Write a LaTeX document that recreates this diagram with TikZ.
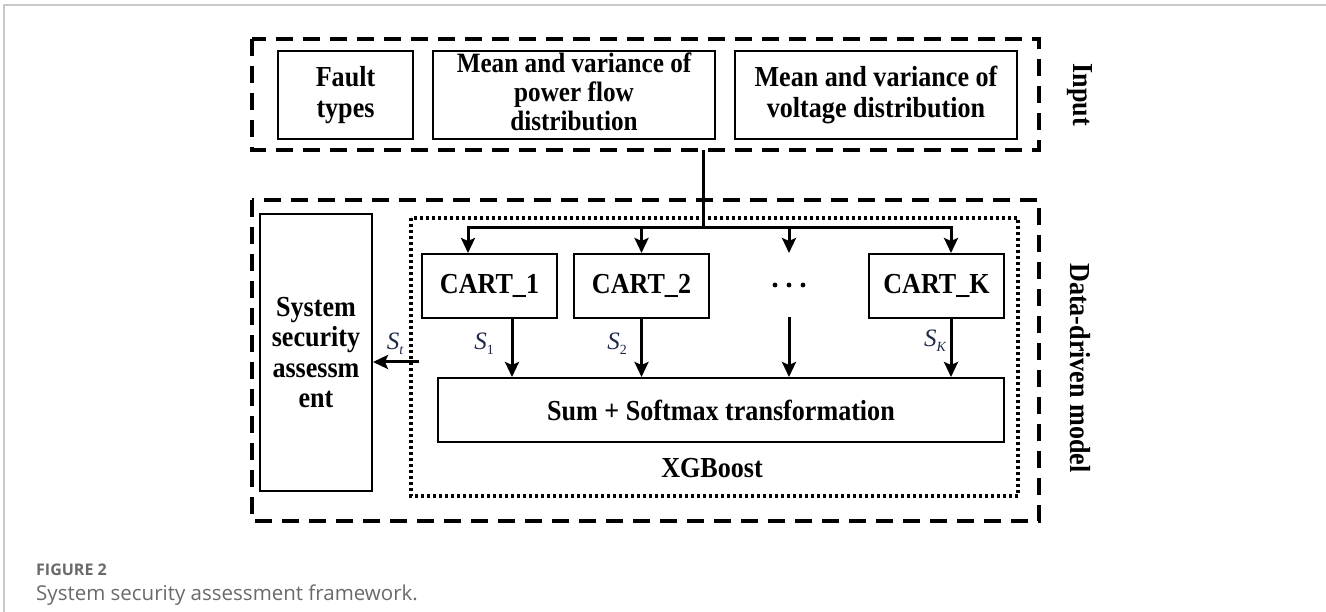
\documentclass[tikz,border=0pt]{standalone}
\usepackage{fontspec}
\setmainfont{Liberation Serif}
\newfontfamily\boxfont[FakeStretch=0.9]{Liberation Serif}
\newfontfamily\capfont{Open Sans}
\usetikzlibrary{arrows.meta}
\definecolor{frameg}{HTML}{C8C8C8}
\definecolor{capg}{HTML}{6A6A6A}
\definecolor{labc}{HTML}{1E2A48}
\tikzset{
  box/.style={draw, line width=2pt, align=center, inner sep=0pt,
    font=\boxfont\fontsize{29}{30.5}\selectfont\bfseries},
  outerbox/.style={draw, line width=3.2pt, dash pattern=on 17pt off 10pt},
  dotbox/.style={draw, line width=3.2pt, dash pattern=on 3pt off 3pt},
  conn/.style={line width=3pt},
  arr/.style={line width=3pt, -{Stealth[length=15pt,width=14pt,inset=3pt]}},
  slab/.style={font=\fontsize{25}{25}\selectfont, text=labc, inner sep=0pt},
  sidelab/.style={font=\boxfont\fontsize{29}{29}\selectfont\bfseries, rotate=-90, inner sep=0pt}
}
\begin{document}
\begin{tikzpicture}[x=1pt,y=-1pt]
\useasboundingbox (0,0) rectangle (1326,612);
\fill[white] (0,0) rectangle (1326,612);
% page frame
\draw[frameg, line width=1.6pt] (4,612) -- (4,5) -- (1326,5);

% outer boxes
\draw[outerbox] (252,39) rectangle (1039,150);
\draw[outerbox] (252,200) rectangle (1039,521);
\draw[dotbox] (411,218) rectangle (1018,496);

% input boxes
\node[box, minimum width=135pt, minimum height=88pt] (fault) at (345.5,95) {Fault\\types};
\node[box, minimum width=282pt, minimum height=88pt] (power) at (574,95) {};
\node[font=\boxfont\fontsize{28}{29}\selectfont\bfseries, align=center, inner sep=0pt] (powertxt) at (574,92) {Mean and variance of\\power flow\\distribution};
\node[box, minimum width=282pt, minimum height=88pt] (volt) at (876,95) {Mean and variance of\\voltage distribution};

% side labels
\node[sidelab] (inlab) at (1080,95) {Input};
\node[sidelab] (ddlab) at (1080,368) {Data-driven model};

% system box
\node[box, minimum width=112pt, minimum height=277pt] (system) at (316,352.5) {System\\security\\assessm\\ent};

% CART boxes
\node[box, minimum width=135pt, minimum height=64pt] (cart1) at (489.5,286) {CART\_1};
\node[box, minimum width=135pt, minimum height=64pt] (cart2) at (641.5,286) {CART\_2};
\node[box, minimum width=135pt, minimum height=64pt] (cartk) at (936.5,286) {CART\_K};
\coordinate (dots) at (789,285);
\fill ([xshift=-14pt]dots) circle (2.4pt) (dots) circle (2.4pt) ([xshift=14pt]dots) circle (2.4pt);

% sum box
\node[box, minimum width=566pt, minimum height=64pt] (sum) at (721,410) {Sum + Softmax transformation};
\node[font=\boxfont\fontsize{29}{29}\selectfont\bfseries, inner sep=0pt] (xgb) at (712,468) {XGBoost};

% bus
\coordinate (split) at (703,150);
\coordinate (junc) at (703,228);
\coordinate (b1) at (468,228);
\coordinate (b2) at (641.5,228);
\coordinate (b3) at (789,228);
\coordinate (b4) at (951,228);
\coordinate (d3top) at (789,317);
\draw[conn] (split) -- (junc);
\draw[conn, line cap=rect] (b1) -- (b4);
\draw[arr] (b1) -- (b1 |- cart1.north);
\draw[arr] (b2) -- (b2 |- cart2.north);
\draw[arr] (b3) -- (789,253);
\draw[arr] (b4) -- (b4 |- cartk.north);

% outputs to sum
\coordinate (o1) at (512,318);
\coordinate (o2) at (641.5,318);
\coordinate (o4) at (951,318);
\draw[arr] (o1) -- (o1 |- sum.north);
\draw[arr] (o2) -- (o2 |- sum.north);
\draw[arr] (d3top) -- (d3top |- sum.north);
\draw[arr] (o4) -- (o4 |- sum.north);

% output to system
\coordinate (st) at (419,362);
\draw[arr] (st) -- (st -| system.east);

% labels
\node[slab] (s1) at (484,344) {\itshape S\raisebox{-5pt}{\upshape\fontsize{14}{14}\selectfont 1}};
\node[slab] (s2) at (617,344) {\itshape S\raisebox{-5pt}{\upshape\fontsize{14}{14}\selectfont 2}};
\node[slab] (sk) at (935,341) {\itshape S\raisebox{-5pt}{\fontsize{14}{14}\selectfont K}};
\node[slab] (stl) at (395,344) {\itshape S\raisebox{-5pt}{\fontsize{14}{14}\selectfont t}};

% caption
\node[anchor=base west, inner sep=0pt, font=\capfont\bfseries\fontsize{16}{16}\selectfont, text=capg] (figl) at (36,575) {FIGURE 2};
\node[anchor=base west, inner sep=0pt, font=\capfont\fontsize{20.5}{20.5}\selectfont, text=capg] (capt) at (36,600) {System security assessment framework.};
\end{tikzpicture}
\end{document}
